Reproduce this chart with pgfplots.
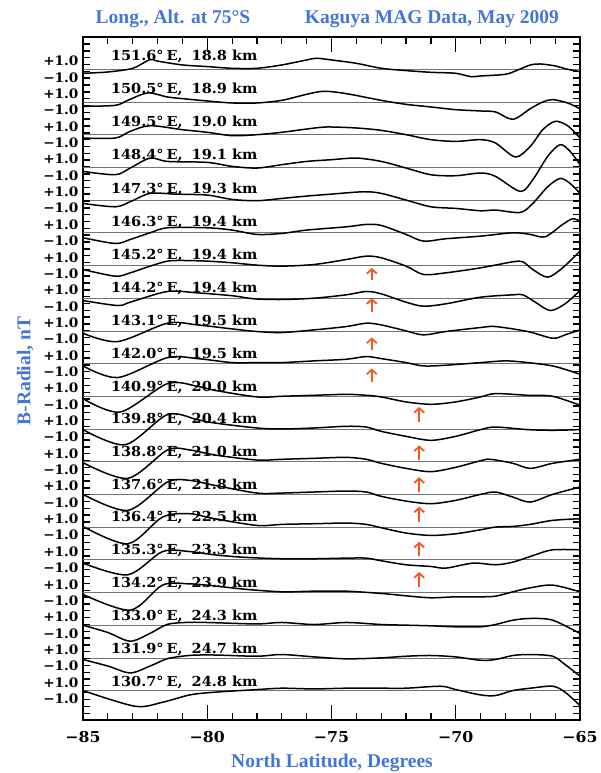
\documentclass[border=0pt]{standalone}
\usepackage{fontspec}
\setmainfont{Liberation Serif}
\newfontfamily\dvs{DejaVu Serif}[FakeStretch=1.05]
\usepackage{pgfplots}
\pgfplotsset{compat=1.18}
\usetikzlibrary{arrows.meta}
\definecolor{tblue}{RGB}{66,118,218}
\definecolor{arr}{RGB}{242,88,32}
\newcommand\lbl[3]{\node[anchor=west,inner sep=0pt,font=\dvs\bfseries\fontsize{13.8}{14}\selectfont] at (axis cs:-83.88,#1) {#2°\hspace{3pt}E,\hspace{9pt}#3\hspace{5pt}km};}
\newcommand\tr[2]{\addplot[trace, y filter/.expression={y-#1}] coordinates {#2};}
\newcommand\arw[3]{\addplot[arr, line width=1.8pt, -{Straight Barb[length=4.5pt,width=10pt,line width=1.8pt]}] coordinates {(#1,#2) (#1,#3)};}
\begin{document}
\begin{tikzpicture}
\path[use as bounding box] (-83pt,-53pt) rectangle (518pt,720pt);
\begin{axis}[
  at={(0pt,0pt)}, anchor=south west,
  scale only axis, width=497pt, height=683pt,
  xmin=-85, xmax=-65, ymin=-79.6, ymax=3.95,
  xtick={-85,-80,-75,-70,-65},
  xticklabels={−85,−80,−75,−70,−65},
  minor xtick={-84,-83,-82,-81,-79,-78,-77,-76,-74,-73,-72,-71,-69,-68,-67,-66},
  ytick={-79.6},
  yticklabels={},
  minor ytick={-78.765,-77.93,...,3.95},
  extra y ticks={-77,-75,...,1},
  extra y tick labels={−1.0,+1.0,−1.0,+1.0,−1.0,+1.0,−1.0,+1.0,−1.0,+1.0,−1.0,+1.0,−1.0,+1.0,−1.0,+1.0,−1.0,+1.0,−1.0,+1.0,−1.0,+1.0,−1.0,+1.0,−1.0,+1.0,−1.0,+1.0,−1.0,+1.0,−1.0,+1.0,−1.0,+1.0,−1.0,+1.0,−1.0,+1.0,−1.0,+1.0},
  extra y tick style={major tick length=0pt, yticklabel style={font=\dvs\bfseries\fontsize{13}{13}\selectfont, xshift=-1pt}},
  major tick length=15pt, minor tick length=7pt,
  every tick/.append style={black, line width=1.2pt},
  axis line style={black, line width=1.4pt},
  xticklabel style={font=\dvs\bfseries\fontsize{15}{15}\selectfont, yshift=-8pt},
  trace/.style={black, line width=1.5pt, smooth, no markers},
  basel/.style={black!55, line width=0.7pt, no markers},
]
\pgfplotsinvokeforeach{0,...,19}{\addplot[basel, y filter/.expression={y-4*#1}] coordinates {(-85,0) (-65,0)};}

\tr{0}{(-85,-0.49) (-84,-0.33) (-83,0.12) (-82.3,1.2) (-82,1.0) (-81,0.53) (-80,0.33) (-79,0.12) (-78,0.12) (-77,0.53) (-76,1.14) (-75.6,1.35) (-75,1.14) (-74,0.73) (-73,0.12) (-72,-0.16) (-71,-0.37) (-70,-0.49) (-69.4,-0.9) (-69,-0.82) (-68,-0.61) (-67.5,-0.08) (-67,0.53) (-66.6,0.65) (-66,0.41) (-65.5,0) (-65,-0.29)}
\tr{4}{(-85,-0.53) (-83.7,-0.41) (-83.2,0.2) (-82.4,1.1) (-81.6,0.61) (-81,0.41) (-80,0.12) (-79,-0.12) (-78,-0.12) (-77,0.2) (-76,0.94) (-75.3,1.31) (-74.4,1.02) (-73,0.2) (-72,-0.29) (-71,-0.61) (-70,-0.94) (-69,-1.1) (-68.4,-1.22) (-67.7,-2.12) (-67,-0.82) (-66.5,0) (-66.1,0.29) (-65.5,-0.12) (-65,-0.82)}
\tr{8}{(-85,-0.41) (-83.7,-0.41) (-83.1,0.41) (-82.3,1.1) (-81,0.61) (-80,0.29) (-79,-0.12) (-78,0) (-77,0.29) (-76,0.69) (-75.2,0.94) (-74,0.82) (-73,0.53) (-72,0) (-71,-0.61) (-70,-0.82) (-69,-0.61) (-68.4,-1.02) (-67.6,-2.73) (-67,-1.43) (-66.5,0.61) (-66,1.63) (-65.5,1.1) (-65,-0.41)}
\tr{12}{(-85,-0.49) (-83.7,-0.9) (-83.1,-0.08) (-82.3,1.14) (-81.6,0.73) (-80,0.61) (-79,0.12) (-78,-0.08) (-77,0.33) (-76,0.73) (-75,0.94) (-74,1.14) (-73,0.73) (-72,-0.08) (-71,-0.9) (-70,-1.02) (-69,-0.69) (-68.4,-1.1) (-67.4,-2.94) (-66.9,-1.51) (-66.3,1.35) (-65.8,2.78) (-65.4,1.96) (-65,0.33)}
\tr{16}{(-85,-0.41) (-83.7,-0.82) (-83.1,-0.2) (-82.3,0.82) (-81.3,0.73) (-80,0.61) (-79,0.08) (-78,-0.08) (-77,0.2) (-76,0.49) (-75,0.73) (-73.7,1.02) (-73,0.82) (-72,0) (-71,-0.82) (-70,-1.02) (-69,-1.31) (-68.4,-1.22) (-67.4,-1.51) (-66.9,-0.41) (-66.3,1.63) (-65.8,2.65) (-65.4,2.04) (-65,0.82)}
\tr{20}{(-85,-0.61) (-83.7,-1.31) (-83.1,-0.82) (-82.3,0) (-81.6,0.61) (-80,0.61) (-79,0.33) (-78,-0.2) (-77,-0.08) (-76,0.33) (-74.4,0.73) (-73.6,1.02) (-73,0.9) (-72,-0.2) (-71.3,-1.02) (-70.4,-0.73) (-69,-0.41) (-67.7,0) (-67,-0.2) (-66.4,-0.49) (-65.7,1.02) (-65.3,1.71) (-65,1.43)}
\tr{24}{(-85,-0.49) (-83.7,-1.31) (-83.1,-0.9) (-82.3,-0.08) (-81.6,0.53) (-81,0.61) (-80,0.53) (-79,0.33) (-78,0.04) (-77,-0.08) (-75.7,0.12) (-74.4,0.73) (-73.6,1.14) (-73,0.94) (-72,-0.08) (-71.3,-1.1) (-70.4,-0.9) (-69,-0.29) (-67.7,0.45) (-67.3,0.45) (-66.9,-0.49) (-66.3,-1.43) (-65.7,-0.29) (-65,1.76)}
\tr{28}{(-85,-0.29) (-83.6,-0.9) (-83.1,-0.49) (-81.6,0.82) (-80.4,0.65) (-79,0.3) (-78.1,-0.08) (-77,-0.16) (-75.7,0) (-74.4,0.41) (-73.6,0.82) (-73,0.53) (-72,-0.49) (-71.3,-0.98) (-70.4,-0.69) (-69,0.12) (-67.7,0.41) (-67.3,0.41) (-66.8,-0.49) (-66.2,-1.51) (-65.6,-0.69) (-65,0.94)}
\tr{32}{(-85,-0.29) (-83.6,-1.31) (-81.6,0.94) (-80.4,0.73) (-79,0.24) (-78,-0.08) (-77,-0.2) (-75.7,0.12) (-74.4,0.53) (-73.6,0.94) (-73,0.73) (-72,0) (-71.3,-0.49) (-70.4,-0.08) (-69,0.41) (-68.4,0.53) (-67.1,-0.08) (-66.1,-0.9) (-65.6,-0.49) (-65,0.12)}
\tr{36}{(-85,-0.29) (-83.6,-1.71) (-81.6,0.73) (-80.4,0.61) (-79,0.12) (-78,0.12) (-77,0.12) (-75.7,0.33) (-74.4,0.53) (-73.6,0.86) (-73,0.61) (-72,0.12) (-71.3,-0.29) (-70.4,-0.2) (-69,0.12) (-68,0.33) (-67.1,0.12) (-66.1,-0.29) (-65.4,-0.9) (-65,-1.31)}
\tr{40}{(-85,-0.29) (-83.5,-1.92) (-81.6,1.55) (-80.4,1.22) (-79.7,0.73) (-78,-0.08) (-77,0) (-75.7,0.12) (-74.4,0.24) (-73.6,0.12) (-73,-0.08) (-72,-0.69) (-71,-0.98) (-70,-0.69) (-69,-0.08) (-68.4,0.33) (-67.1,0.12) (-66.1,0) (-65,-1.1)}
\tr{44}{(-85,-0.08) (-83.3,-1.92) (-81.6,1.76) (-80.4,1.14) (-79.7,0.73) (-78,0.12) (-77,0) (-75.7,0.12) (-74.4,0.33) (-73.6,0.24) (-73,-0.29) (-72,-0.9) (-71,-1.39) (-70,-0.9) (-69,-0.08) (-68.4,0.24) (-67.1,-0.08) (-66.1,-0.16) (-65,-0.08)}
\tr{48}{(-85,-0.12) (-83.2,-2.04) (-81.6,1.43) (-80.7,1.43) (-79.7,0.82) (-78,0.2) (-77,0.29) (-75.7,0.41) (-74.4,0.53) (-73.6,0.29) (-73,-0.2) (-72,-0.82) (-71,-1.22) (-70,-0.69) (-69,0.12) (-68.6,0.29) (-67.7,-0.2) (-67,-0.82) (-66.1,-0.2) (-65,0.29)}
\tr{52}{(-85,0) (-83.2,-1.96) (-81.6,1.51) (-80.7,1.71) (-79.7,1.1) (-78,0.16) (-77,0.16) (-75.7,0.29) (-74.4,0.41) (-73.6,0.29) (-73,-0.24) (-72,-0.82) (-71,-1.14) (-70,-0.73) (-69,0) (-68.4,0.29) (-67.7,-0.33) (-67,-0.94) (-66.1,0) (-65,0.9)}
\tr{56}{(-85,0.08) (-83.2,-2.04) (-81.8,1.22) (-80.7,1.63) (-79.7,1.02) (-78,0.2) (-77,0.33) (-75.7,0.41) (-74.4,0.49) (-73.6,0.33) (-73,-0.08) (-72,-0.73) (-71,-1.02) (-70,-0.82) (-69,-0.33) (-68.4,0) (-67.7,0.08) (-67,0.33) (-66.1,0.82) (-65,1.02)}
\tr{60}{(-85,-0.41) (-83.2,-1.84) (-81.8,1.0) (-80.7,1.0) (-79.7,0.6) (-78.5,0.3) (-77,0.12) (-75.7,0.12) (-74.4,0.2) (-73.6,0.2) (-73,-0.12) (-72,-0.61) (-71,-0.82) (-70.4,-1.02) (-69.3,-0.41) (-68.4,-0.61) (-67.7,-0.29) (-66.8,0.61) (-66.1,1.22) (-65,1.22)}
\tr{64}{(-85,-0.24) (-83.1,-2.16) (-81.8,0.9) (-80.7,1.05) (-79.7,0.8) (-78.5,0.4) (-77,0.08) (-75.7,0.16) (-74.4,0.16) (-73,-0.12) (-72,-0.41) (-71,-0.65) (-70,-0.53) (-69,-0.53) (-68.4,-0.45) (-67.7,0.08) (-67,0.57) (-66.1,0.9) (-65,0.08)}
\tr{68}{(-85,0) (-84,-0.9) (-83.1,-1.96) (-82.3,-1.0) (-81.6,0.1) (-80.7,0.35) (-79.7,0.3) (-78,0.15) (-77,0.33) (-75.7,0.08) (-74.4,0.33) (-73,0.08) (-72,0) (-71,-0.08) (-70,-0.2) (-69,-0.2) (-68.4,0.08) (-67.7,0.61) (-67,0.82) (-66.1,0.61) (-65,-1.02)}
\tr{72}{(-85,-0.2) (-84,-1.0) (-83.1,-1.84) (-82.3,-1.0) (-81.6,-0.1) (-80.7,0.3) (-79.7,0.35) (-78,0.2) (-77,0.41) (-75.7,0.12) (-74.4,-0.12) (-73,0) (-72,0.2) (-71,0.29) (-70,0.12) (-69,-0.29) (-68.4,-0.2) (-67.7,0.29) (-67,0.41) (-66.1,0.2) (-65.6,-0.82) (-65,-2.24)}
\tr{76}{(-85,0) (-82.9,-1.92) (-81.8,-1.43) (-80.7,-0.53) (-79.7,-0.2) (-78,0.12) (-77,0.29) (-75.7,0.2) (-74.4,0.29) (-73,0.29) (-72,0.29) (-70.6,0.53) (-70,0.12) (-69,-0.53) (-68.4,-0.61) (-67.7,0) (-67,0.29) (-66.1,0.53) (-65.6,-0.2) (-65,-1.84)}

\arw{-73.38}{-25.8}{-24.3}
\arw{-73.38}{-29.7}{-28.0}
\arw{-73.38}{-34.4}{-32.8}
\arw{-73.38}{-38.3}{-36.6}
\arw{-71.47}{-43.1}{-41.3}
\arw{-71.47}{-47.8}{-46.0}
\arw{-71.47}{-51.7}{-49.9}
\arw{-71.47}{-55.4}{-53.5}
\arw{-71.47}{-59.5}{-57.8}
\arw{-71.47}{-63.3}{-61.5}

\pgfplotsinvokeforeach{-84,-83,-82,-81,-79,-78,-77,-76,-74,-73,-72,-71,-69,-68,-67,-66}{
  \draw[black, line width=1.2pt] (axis cs:#1,-79.6) -- ++(0pt,7pt);
  \draw[black, line width=1.2pt] (axis cs:#1,3.95) -- ++(0pt,-7pt);
}
\pgfplotsinvokeforeach{-80,-75,-70}{
  \draw[black, line width=1.2pt] (axis cs:#1,-79.6) -- ++(0pt,15pt);
  \draw[black, line width=1.2pt] (axis cs:#1,3.95) -- ++(0pt,-15pt);
}
\pgfplotsinvokeforeach{1,...,99}{
  \draw[black, line width=1.2pt] (axis cs:-85,{-79.6+0.8355*#1}) -- ++(7pt,0pt);
  \draw[black, line width=1.2pt] (axis cs:-65,{-79.6+0.8355*#1}) -- ++(-7pt,0pt);
}

\lbl{1.63}{151.6}{18.8}
\lbl{-2.44}{150.5}{18.9}
\lbl{-6.51}{149.5}{19.0}
\lbl{-10.58}{148.4}{19.1}
\lbl{-14.65}{147.3}{19.3}
\lbl{-18.75}{146.3}{19.4}
\lbl{-22.8}{145.2}{19.4}
\lbl{-26.83}{144.2}{19.4}
\lbl{-30.85}{143.1}{19.5}
\lbl{-34.86}{142.0}{19.5}
\lbl{-38.86}{140.9}{20.0}
\lbl{-42.86}{139.8}{20.4}
\lbl{-46.86}{138.8}{21.0}
\lbl{-50.86}{137.6}{21.8}
\lbl{-54.86}{136.4}{22.5}
\lbl{-58.88}{135.3}{23.3}
\lbl{-62.9}{134.2}{23.9}
\lbl{-66.93}{133.0}{24.3}
\lbl{-70.95}{131.9}{24.7}
\lbl{-74.98}{130.7}{24.8}
\end{axis}
\begin{scope}[every node/.style={text=tblue, font=\bfseries\fontsize{19.5}{20}\selectfont, inner sep=0pt}]
\node[anchor=base] at (90pt,696pt) {Long., Alt. at 75°S};
\node[anchor=base] at (349pt,696pt) {Kaguya MAG Data, May 2009};
\node[anchor=base] at (249pt,-47pt) {North Latitude, Degrees};
\node[rotate=90] at (-58pt,349pt) {B-Radial, nT};
\end{scope}
\end{tikzpicture}
\end{document}
